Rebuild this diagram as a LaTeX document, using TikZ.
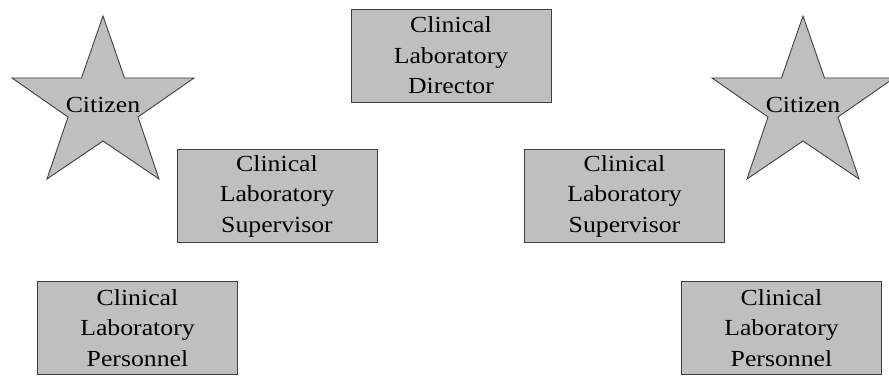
\documentclass[tikz,border=0pt]{standalone}
\usepackage{fontspec}
\setmainfont{Liberation Serif}[FakeStretch=1.12]
\begin{document}
\begin{tikzpicture}[x=1pt,y=-1pt,
  box/.style={draw=black!75,line width=0.9pt,fill=black!25,minimum width=200pt,minimum height=93pt,inner sep=0pt,align=center,font=\fontsize{23}{30.5}\selectfont},
  starshape/.style={draw=black!75,line width=0.9pt,fill=black!25,line join=miter},
  startext/.style={inner sep=0pt,font=\fontsize{23}{28}\selectfont}]
\useasboundingbox (0,0) rectangle (889,377);
\clip (0,0) rectangle (889,377);
% stars
\foreach \cx/\nm in {103/cit1,803/cit2}{
  \draw[starshape] (\cx,106) ++(0,-90) -- ++(21.5,62) -- ++(69.5,0) -- ++(-56,39) -- ++(21,62) -- ++(-56,-38) -- ++(-56,38) -- ++(21,-62) -- ++(-56,-39) -- ++(69.5,0) -- cycle;
}
\node[startext] (cit1) at (103,105) {Citizen};
\node[startext] (cit2) at (803,105) {Citizen};
% boxes
\node[box] (dir) at (451,55.5) {Clinical\\Laboratory\\Director};
\node[box] (supL) at (277,196) {Clinical\\Laboratory\\Supervisor};
\node[box] (supR) at (624.5,196) {Clinical\\Laboratory\\Supervisor};
\node[box] (perL) at (137.5,328) {Clinical\\Laboratory\\Personnel};
\node[box] (perR) at (781.5,328) {Clinical\\Laboratory\\Personnel};
\end{tikzpicture}
\end{document}
